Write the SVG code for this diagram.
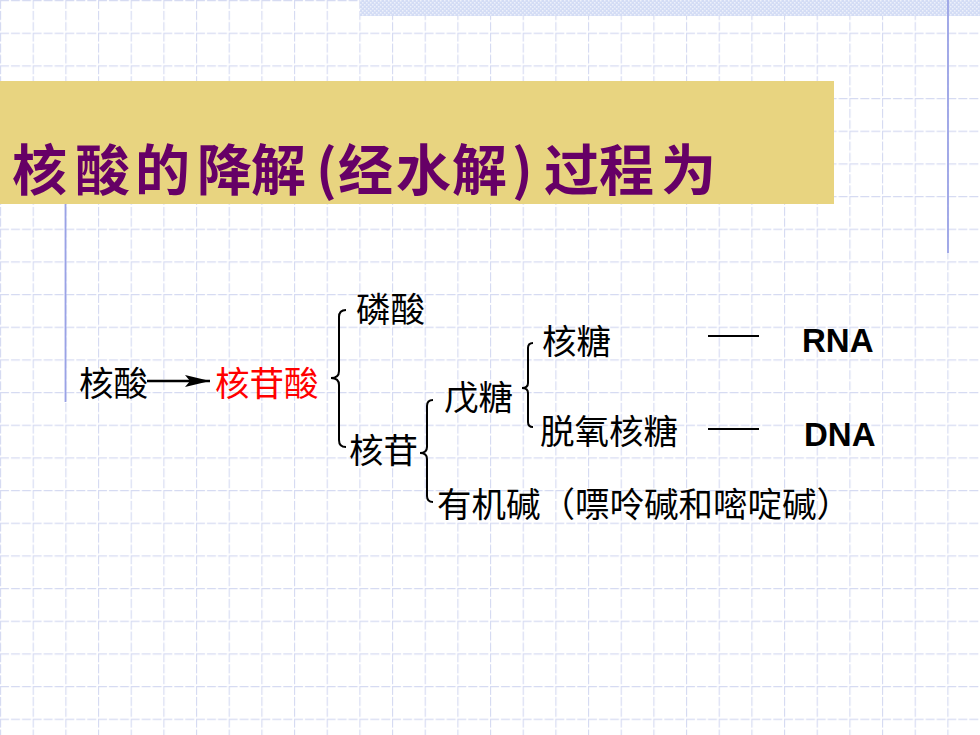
<svg xmlns="http://www.w3.org/2000/svg" width="980" height="735" viewBox="0 0 980 735">
<style>
.t{font-family:"Noto Sans CJK SC","Noto Sans",sans-serif;font-size:34.5px;fill:#000}
.red{fill:#FF0000}
.title{font-family:"Noto Sans CJK SC","Noto Sans",sans-serif;font-size:55px;font-weight:bold;fill:#660066}
.lat{font-family:"Liberation Sans",Arial,sans-serif;font-size:33px;font-weight:bold;fill:#000}
.br{fill:none;stroke:#000;stroke-width:2}
.dash{stroke:#000;stroke-width:2}
.gl{stroke:#D6DBF2;stroke-width:1.3;stroke-dasharray:9 2}
</style>
<defs>
<pattern id="grid" width="32.667" height="32.667" patternUnits="userSpaceOnUse">
<line class="gl" x1="0" y1="0.5" x2="32.667" y2="0.5"/>
<line class="gl" x1="0.5" y1="0" x2="0.5" y2="32.667"/>
</pattern>
<pattern id="hatch" width="4" height="4" patternUnits="userSpaceOnUse">
<rect width="4" height="4" fill="#D3DCF5"/>
<rect x="0" y="0" width="1.5" height="1.5" fill="#EDF1FB"/>
<rect x="2" y="2" width="1.5" height="1.5" fill="#EDF1FB"/>
</pattern>
<marker id="ah" markerUnits="userSpaceOnUse" markerWidth="26" markerHeight="12" refX="25" refY="6" orient="auto">
<path d="M0,0 L25,6 L0,12 L5,6 z" fill="#000"/>
</marker>
</defs>
<g id="background">
<rect width="980" height="735" fill="#FFFFFF"/>
<rect width="980" height="735" fill="url(#grid)"/>
<rect x="360" y="0" width="620" height="16" fill="url(#hatch)"/>
<line x1="948" y1="0" x2="948" y2="253" stroke="#9AA2E6" stroke-width="1.8"/>
<line x1="65.5" y1="204" x2="65.5" y2="402" stroke="#9AA2E6" stroke-width="1.8"/>
</g>
<g id="title">
<rect x="0" y="81" width="834" height="123" fill="#E8D480"/>
<text class="title" y="190" x="12 75 135 197 251 316 338 396 452 512 544 599 661">核酸的降解(经水解)过程为</text>
</g>
<g id="connectors">
<line x1="147" y1="381" x2="210" y2="381" stroke="#000" stroke-width="2.5" marker-end="url(#ah)"/>
<path class="br" d="M346,310 Q339,310 339,317 L339,371 Q339,378 331,378 Q339,378 339,385 L339,440 Q339,447 346,447"/>
<path class="br" d="M433,400 Q427,400 427,406 L427,447 Q427,453 420,453 Q427,453 427,459 L427,496 Q427,502 433,502"/>
<path class="br" d="M533,343 Q528,343 528,348 L528,383 Q528,388 522,388 Q528,388 528,393 L528,422 Q528,427 533,427"/>
<line class="dash" x1="708" y1="336" x2="759" y2="336"/>
<line class="dash" x1="708" y1="429" x2="759" y2="429"/>
</g>
<g id="node-hesuan"><text class="t" x="79" y="396">核酸</text></g>
<g id="node-hegansuan"><text class="t red" x="215" y="396">核苷酸</text></g>
<g id="node-linsuan"><text class="t" x="356" y="322">磷酸</text></g>
<g id="node-hegan"><text class="t" x="349" y="463">核苷</text></g>
<g id="node-wutang"><text class="t" x="444" y="410">戊糖</text></g>
<g id="node-hetang"><text class="t" x="542" y="354">核糖</text></g>
<g id="node-tuoyang"><text class="t" x="540" y="444">脱氧核糖</text></g>
<g id="node-base"><text class="t" x="437" y="517">有机碱（嘌呤碱和嘧啶碱）</text></g>
<g id="node-rna"><text class="lat" x="802" y="352">RNA</text></g>
<g id="node-dna"><text class="lat" x="804" y="446">DNA</text></g>
</svg>
